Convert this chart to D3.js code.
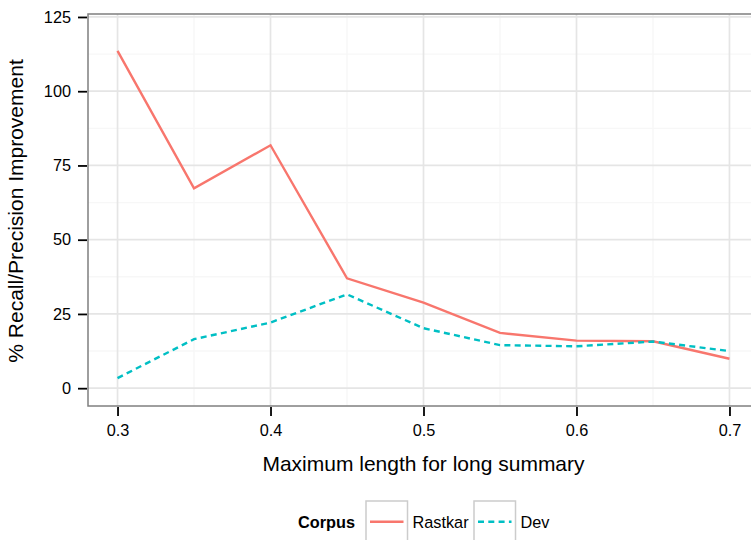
<!doctype html>
<html lang="en">
<head>
<meta charset="utf-8" />
<title>Recall/Precision improvement</title>
<script src="https://cdn.jsdelivr.net/npm/d3@7"></script>
<style>
	html, body { margin: 0; padding: 0; background: #fff; }
	svg { display: block; font-family: "Liberation Sans", Arial, Helvetica, sans-serif; }
</style>
</head>
<body>
<div id="chart"></div>
<script>
	// data
	const xValues = [0.3, 0.35, 0.4, 0.45, 0.5, 0.55, 0.6, 0.65, 0.7];
	const rastkar = [113.6, 67.3, 81.8, 37.0, 28.8, 18.6, 16.0, 15.8, 9.9];
	const dev = [3.4, 16.5, 22.1, 31.6, 20.2, 14.5, 14.1, 15.7, 12.5];
	const seriesNames = ["Rastkar", "Dev"];
	const seriesColors = ["#F8766D", "#00BFC4"];
	const seriesDash = [null, "6,4.3"];
	const xTicks = [0.3, 0.4, 0.5, 0.6, 0.7];
	const xMinor = [0.35, 0.45, 0.55, 0.65];
	const yTicks = [0, 25, 50, 75, 100, 125];
	const yMinor = [12.5, 37.5, 62.5, 87.5, 112.5];

	const W = 751, H = 540;
	const PANEL = { LEFT: 88, TOP: 14, RIGHT: 759, BOTTOM: 406 };
	const LINE_WIDTH = 2.4;

	const x = d3.scaleLinear().domain([0.2807, 0.7193]).range([PANEL.LEFT, PANEL.RIGHT]);
	const y = d3.scaleLinear().domain([-6, 126]).range([PANEL.BOTTOM, PANEL.TOP]);

	const svg = d3.select("#chart").append("svg").attr("width", W).attr("height", H);

	// panel background + grid
	const panel = svg.append("g");
	panel.append("rect")
		.attr("x", PANEL.LEFT).attr("y", PANEL.TOP)
		.attr("width", PANEL.RIGHT - PANEL.LEFT).attr("height", PANEL.BOTTOM - PANEL.TOP)
		.attr("fill", "#fff");

	const minorColor = "#f7f7f7", majorColor = "#e5e5e5";
	panel.selectAll(".ymin").data(yMinor).join("line")
		.attr("x1", PANEL.LEFT).attr("x2", PANEL.RIGHT)
		.attr("y1", (d) => y(d)).attr("y2", (d) => y(d))
		.attr("stroke", minorColor).attr("stroke-width", 1.4);
	panel.selectAll(".xmin").data(xMinor).join("line")
		.attr("y1", PANEL.TOP).attr("y2", PANEL.BOTTOM)
		.attr("x1", (d) => x(d)).attr("x2", (d) => x(d))
		.attr("stroke", minorColor).attr("stroke-width", 1.4);
	panel.selectAll(".ymaj").data(yTicks).join("line")
		.attr("x1", PANEL.LEFT).attr("x2", PANEL.RIGHT)
		.attr("y1", (d) => y(d)).attr("y2", (d) => y(d))
		.attr("stroke", majorColor).attr("stroke-width", 1.7);
	panel.selectAll(".xmaj").data(xTicks).join("line")
		.attr("y1", PANEL.TOP).attr("y2", PANEL.BOTTOM)
		.attr("x1", (d) => x(d)).attr("x2", (d) => x(d))
		.attr("stroke", majorColor).attr("stroke-width", 1.7);

	// lines
	const allSeries = [rastkar, dev];
	const line = d3.line().x((d, i) => x(xValues[i])).y((d) => y(d));
	svg.append("g").selectAll("path").data(allSeries).join("path")
		.attr("d", (d) => line(d))
		.attr("fill", "none")
		.attr("stroke", (d, i) => seriesColors[i])
		.attr("stroke-width", LINE_WIDTH)
		.attr("stroke-dasharray", (d, i) => seriesDash[i]);

	// panel border
	svg.append("rect")
		.attr("x", PANEL.LEFT).attr("y", PANEL.TOP)
		.attr("width", PANEL.RIGHT - PANEL.LEFT).attr("height", PANEL.BOTTOM - PANEL.TOP)
		.attr("fill", "none").attr("stroke", "#7f7f7f").attr("stroke-width", 1.5);

	// axes
	const yAxis = svg.append("g")
		.attr("transform", `translate(${PANEL.LEFT - 1},0)`)
		.call(d3.axisLeft(y).tickValues(yTicks).tickSize(9).tickPadding(7).tickFormat(d3.format("d")));
	const xAxis = svg.append("g")
		.attr("transform", `translate(0,${PANEL.BOTTOM + 1})`)
		.call(d3.axisBottom(x).tickValues(xTicks).tickSize(9).tickPadding(8).tickFormat(d3.format(".1f")));
	[xAxis, yAxis].forEach((ax) => {
		ax.select(".domain").remove();
		ax.selectAll(".tick line").attr("stroke", "#000").attr("stroke-width", 1.8);
		ax.selectAll(".tick text").attr("fill", "#000").attr("font-size", 16.3)
			.attr("font-family", "Liberation Sans, Arial, Helvetica, sans-serif");
	});

	// titles
	svg.append("text")
		.attr("x", (PANEL.LEFT + PANEL.RIGHT) / 2).attr("y", 471)
		.attr("text-anchor", "middle").attr("font-size", 21)
		.text("Maximum length for long summary");
	svg.append("text")
		.attr("transform", `translate(23,${(PANEL.TOP + PANEL.BOTTOM) / 2 + 1}) rotate(-90)`)
		.attr("text-anchor", "middle").attr("font-size", 21)
		.text("% Recall/Precision Improvement");

	// legend
	const legend = svg.append("g");
	legend.append("text")
		.attr("x", 298).attr("y", 528)
		.attr("font-size", 16.3).attr("font-weight", "bold")
		.text("Corpus");
	const keyX = [366, 474];
	const keyW = 41.5;
	const keys = legend.selectAll(".key").data(seriesNames).join("g")
		.attr("transform", (d, i) => `translate(${keyX[i]},501)`);
	keys.append("rect")
		.attr("width", keyW).attr("height", keyW)
		.attr("fill", "#fff").attr("stroke", "#cccccc").attr("stroke-width", 1.5);
	keys.append("line")
		.attr("x1", 4).attr("x2", keyW - 4)
		.attr("y1", keyW / 2).attr("y2", keyW / 2)
		.attr("stroke", (d, i) => seriesColors[i])
		.attr("stroke-width", LINE_WIDTH)
		.attr("stroke-dasharray", (d, i) => seriesDash[i]);
	keys.append("text")
		.attr("x", keyW + 5).attr("y", 27)
		.attr("font-size", 16.3)
		.text((d) => d);
</script>
</body>
</html>
